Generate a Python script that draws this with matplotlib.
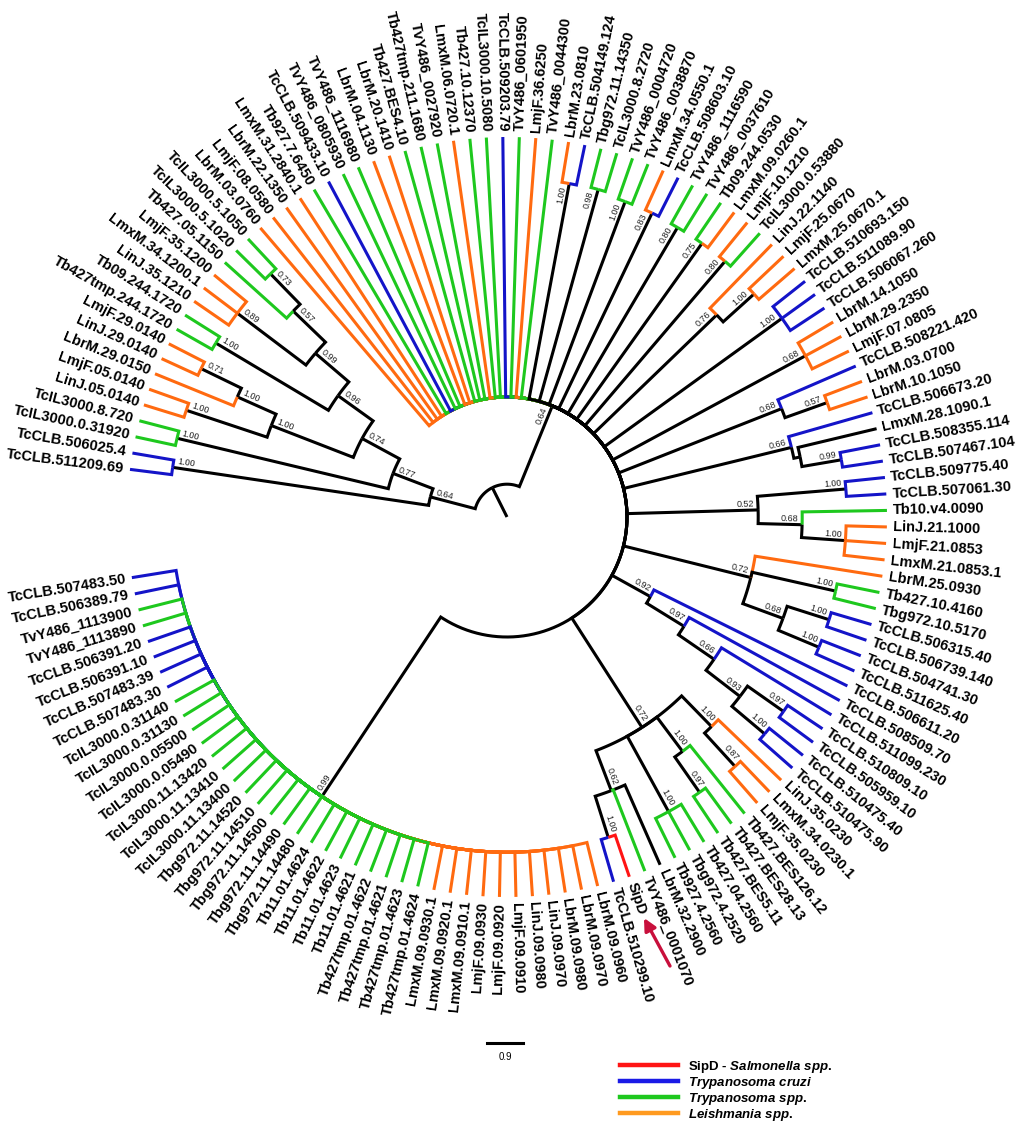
"""Circular phylogram of SipD-like sequences in trypanosomatids -> out.png."""
import matplotlib
matplotlib.use("Agg")
import matplotlib.pyplot as plt
import numpy as np
from matplotlib.lines import Line2D

plt.rcParams["font.family"] = ["Liberation Sans", "DejaVu Sans"]
plt.rcParams["mathtext.fontset"] = "custom"
plt.rcParams["mathtext.it"] = "Liberation Sans:italic:bold"
plt.rcParams["mathtext.rm"] = "Liberation Sans:bold"


def N(sup, depth, *kids):
    # internal node: support label, distance from centre (tree units), children
    return {"sup": sup, "depth": depth, "kids": list(kids)}


# ---------------- data ----------------
TIP_DEPTH = 9.5
ROOT_DEPTH = 0.82
SCALE_BAR = 0.9

clade_a = N("0.64", 1.98,
            N("1.00", 8.45, "TcCLB.511209.69", "TcCLB.506025.4"),
            N("0.77", 3.05,
              N("1.00", 8.48, "TcIL3000.0.31920", "TcIL3000.8.720"),
              N("0.74", 4.12,
                N("1.00", 6.32,
                  N("1.00", 8.45, "LinJ.05.0140", "LmjF.05.0140"),
                  N("1.00", 7.38, "LbrM.29.0150",
                    N("0.71", 8.50, "LinJ.29.0140", "LmjF.29.0140"))),
                N("0.96", 5.20,
                  N("1.00", 8.48, "Tb427tmp.244.1720", "Tb09.244.1720"),
                  N("0.99", 6.30,
                    N("0.89", 8.45, "LinJ.35.1210", "LmxM.34.1200.1", "LmjF.35.1200"),
                    N("0.57", 7.42, "Tb427.05.1150",
                      N("0.73", 8.48, "TcIL3000.5.1020", "TcIL3000.5.1050")))))))

fan_leaves = ["LbrM.03.0760", "LmjF.08.0580", "LbrM.22.1350", "LmxM.31.2840.1",
              "Tb927.7.6450", "TcCLB.509433.10", "TvY486_0805930", "TvY486_1116980",
              "LbrM.04.1130", "LbrM.20.1410", "Tb427.BES4.10", "Tb427tmp.211.1680",
              "TvY486_0027920", "LmxM.06.0720.1", "Tb427.10.12370", "TcIL3000.10.5080",
              "TcCLB.509203.79", "TvY486_0601950", "LmjF.36.6250", "TvY486_0044300"]

clades_b = [
    N("1.00", 8.48, "LbrM.23.0810", "TcCLB.504149.124"),
    N("0.98", 8.50, "Tbg972.11.14350", "TcIL3000.8.2720"),
    N("1.00", 8.42, "TvY486_0004720", "TvY486_0038870"),
    N("0.83", 8.42, "LmxM.34.0550.1", "TcCLB.508603.10"),
    N("0.80", 8.40, "TvY486_1116590", "TvY486_0037610"),
    N("0.75", 8.40, "Tb09.244.0530", "LmxM.09.0260.1"),
    N("0.80", 8.40, "LmjF.10.1210", "TcIL3000.0.53880"),
    N("0.76", 7.28, "LinJ.22.1140",
      N("1.00", 8.32, "LmjF.25.0670", "LmxM.25.0670.1")),
    N("1.00", 8.48, "TcCLB.510693.150", "TcCLB.511089.90", "TcCLB.506067.260"),
    N("0.68", 8.48, "LbrM.14.1050", "LbrM.29.2350", "LmjF.07.0805"),
    N("0.68", 7.38, "TcCLB.508221.420",
      N("0.57", 8.50, "LbrM.03.0700", "LbrM.10.1050")),
    N("0.66", 7.32, "TcCLB.506673.20",
      N("", 7.48, "LmxM.28.1090.1",
        N("0.99", 8.48, "TcCLB.508355.114", "TcCLB.507467.104"))),
    N("0.52", 6.28,
      N("1.00", 8.50, "TcCLB.509775.40", "TcCLB.507061.30"),
      N("0.68", 7.38, "Tb10.v4.0090",
        N("1.00", 8.48, "LinJ.21.1000", "LmjF.21.0853", "LmxM.21.0853.1"))),
    N("0.72", 6.28, "LbrM.25.0930",
      N("1.00", 8.42, "Tb427.10.4160", "Tbg972.10.5170"),
      N("0.68", 7.35,
        N("1.00", 8.45, "TcCLB.506315.40", "TcCLB.506739.140"),
        N("1.00", 8.45, "TcCLB.504741.30", "TcCLB.511625.40"))),
    N("0.92", 4.10, "TcCLB.506611.20",
      N("0.97", 5.20, "TcCLB.508509.70",
        N("0.66", 6.28, "TcCLB.511099.230",
          N("0.93", 7.35,
            N("0.97", 8.45, "TcCLB.510809.10", "TcCLB.505959.10"),
            N("1.00", 8.42, "TcCLB.510475.40", "TcCLB.510475.90"))))),
    N("0.72", 6.25,
      N("1.00", 7.32, "LinJ.35.0230",
        N("0.87", 8.45, "LmxM.34.0230.1", "LmjF.35.0230")),
      N("1.00", 7.32, "Tb427.BES126.12",
        N("0.97", 8.40, "Tb427.BES28.13", "Tb427.BES5.11")),
      N("1.00", 8.40, "Tb427.04.2560", "Tbg972.4.2520", "Tb927.4.2560"),
      N("0.62", 7.32, "LbrM.32.2900", "TvY486_0001070",
        N("1.00", 8.40, "SipD", "TcCLB.510299.10"))),
]

bottom_leaves = ["LbrM.09.0960", "LbrM.09.0970", "LbrM.09.0980", "LinJ.09.0970",
                 "LinJ.09.0980", "LmjF.09.0910", "LmjF.09.0920", "LmjF.09.0930",
                 "LmxM.09.0910.1", "LmxM.09.0920.1", "LmxM.09.0930.1",
                 "Tb427tmp.01.4624", "Tb427tmp.01.4623", "Tb427tmp.01.4621",
                 "Tb427tmp.01.4622", "Tb11.01.4621", "Tb11.01.4623", "Tb11.01.4622",
                 "Tb11.01.4624", "Tbg972.11.14480", "Tbg972.11.14490",
                 "Tbg972.11.14500", "Tbg972.11.14510", "Tbg972.11.14520",
                 "TcIL3000.11.13400", "TcIL3000.11.13410", "TcIL3000.11.13420",
                 "TcIL3000.0.05490", "TcIL3000.0.05500", "TcIL3000.0.31130",
                 "TcIL3000.0.31140", "TcCLB.507483.30", "TcCLB.507483.39",
                 "TcCLB.506391.10", "TcCLB.506391.20", "TvY486_1113890",
                 "TvY486_1113900", "TcCLB.506389.79", "TcCLB.507483.50"]

uncoloured = ["LbrM.32.2900", "LmxM.28.1090.1"]

legend_labels = ["SipD - $\\it{Salmonella\\ spp.}$", "$\\it{Trypanosoma\\ cruzi}$",
                 "$\\it{Trypanosoma\\ spp.}$", "$\\it{Leishmania\\ spp.}$"]

clade_b = N("0.64", 3.00, *fan_leaves, *clades_b, N("0.99", 8.38, *bottom_leaves))
tree = N("", ROOT_DEPTH, clade_a, clade_b)

# ---------------- style / layout ----------------
CX, CY = 507, 517          # centre of the fan, pixels
PX = 40.0                  # pixels per tree unit
START, STEP = 172.8, 2.49  # first leaf angle, spacing (degrees)
LW = 2.2
RED, BLUE, GREEN, ORANGE = "#ff1414", "#1414c8", "#1ec81e", "#ff6a10"


def leaf_color(name):
    if name in uncoloured:
        return "black"
    if name == "SipD":
        return RED
    if name.startswith("TcCLB"):
        return BLUE
    if name[:3] in ("Lbr", "Lmj", "Lmx", "Lin"):
        return ORANGE
    return GREEN


def xy(depth, ang):
    t = np.radians(ang)
    r = depth * PX
    return CX + r * np.cos(t), CY - r * np.sin(t)


leaf_pos = []


def layout(node):
    if isinstance(node, str):
        a = START - len(leaf_pos) * STEP
        leaf_pos.append((node, a))
        return a
    node["angles"] = [layout(k) for k in node["kids"]]
    node["angle"] = float(np.mean(node["angles"]))
    return node["angle"]


layout(tree)

fig = plt.figure(figsize=(10.2, 11.25), dpi=100)
ax = fig.add_axes([0, 0, 1, 1])
ax.set_xlim(0, 1020)
ax.set_ylim(1125, 0)
ax.axis("off")


def support(node):
    if not node["sup"]:
        return
    a = node["angle"]
    right = np.cos(np.radians(a)) >= 0
    rot = a if right else a - 180
    perp = np.radians(a + 90 if right else a - 90)
    x, y = xy(node["depth"] - 0.1, a)
    x += 1.5 * np.cos(perp)
    y -= 1.5 * np.sin(perp)
    ax.text(x, y, node["sup"], rotation=rot, rotation_mode="anchor",
            ha="right" if right else "left", va="bottom", fontsize=6.5,
            color="#222222")


def draw(node):
    a0, d0 = node["angle"], node["depth"]
    kids = sorted(zip(node["kids"], node["angles"]), key=lambda k: -abs(k[1] - a0))
    for kid, a in kids:
        leaf = isinstance(kid, str)
        col = leaf_color(kid) if leaf else "black"
        d1 = TIP_DEPTH if leaf else kid["depth"]
        arc = np.linspace(a0, a, int(abs(a - a0) * 2) + 2)
        xs, ys = xy(d0, arc)
        x1, y1 = xy(d1, a)
        ax.plot(np.r_[xs, x1], np.r_[ys, y1], color=col, lw=LW,
                solid_joinstyle="miter", solid_capstyle="butt")
        if not leaf:
            draw(kid)
    support(node)


# root stem then the tree
rx, ry = xy(np.array([0, ROOT_DEPTH]), tree["angle"])
ax.plot(rx, ry, color="black", lw=LW, solid_capstyle="butt")
draw(tree)

# tip labels
for name, a in leaf_pos:
    right = np.cos(np.radians(a)) >= 0
    x, y = xy(TIP_DEPTH + 0.15, a)
    ax.text(x, y, name, rotation=a if right else a - 180, rotation_mode="anchor",
            ha="left" if right else "right", va="center", fontsize=10.5,
            fontweight="bold")

# scale bar
x0 = 487
ax.plot([x0, x0 + SCALE_BAR * PX], [1043, 1043], color="black", lw=2.2)
ax.text(x0 + SCALE_BAR * PX / 2, 1052, f"{SCALE_BAR}", ha="center", va="top",
        fontsize=7)

# arrow pointing at SipD
ax.annotate("", xy=(644, 918), xytext=(670, 966),
            arrowprops=dict(arrowstyle="-|>", color="#c8103c", lw=2.4,
                            mutation_scale=18, shrinkA=0, shrinkB=0))

# legend
handles = [Line2D([], [], color=c, lw=3.2)
           for c in (RED, "#1a1ae6", GREEN, "#ff9a1f")]
ax.legend(handles, legend_labels, loc="upper left", bbox_to_anchor=(620, 1059),
          bbox_transform=ax.transData, frameon=False, borderpad=0,
          borderaxespad=0, handlelength=4.4, handletextpad=0.75,
          labelspacing=0.0, prop=dict(size=9.5, weight="bold"))

fig.savefig("out.png", dpi=100)
